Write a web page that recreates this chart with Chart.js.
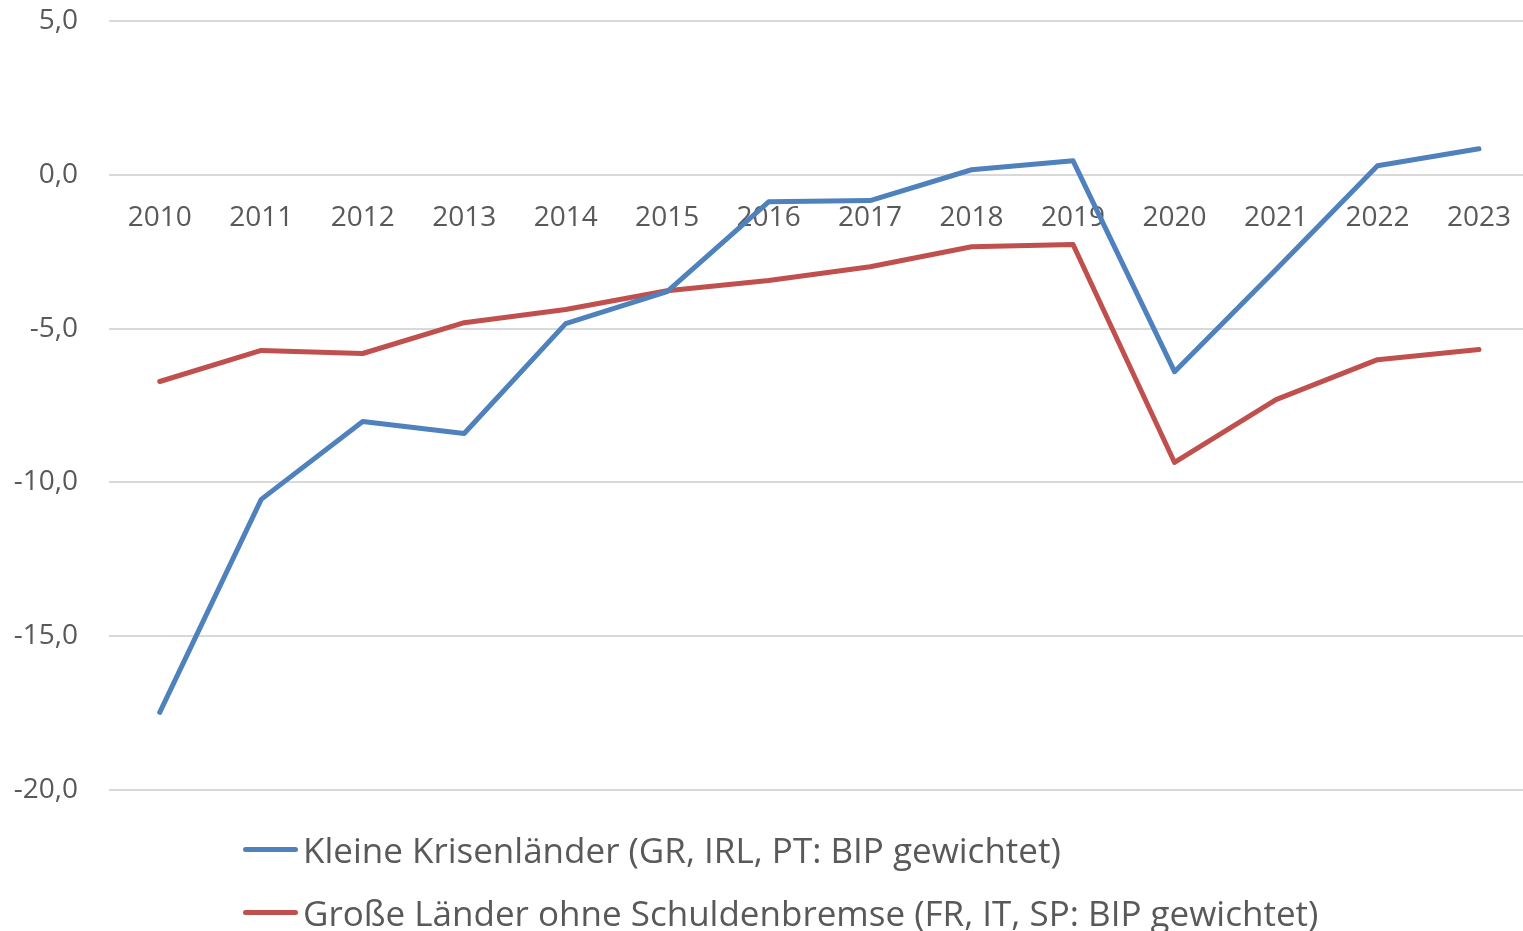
<!DOCTYPE html>
<html lang="de">
<head>
<meta charset="utf-8">
<script src="https://cdn.jsdelivr.net/npm/chart.js@4.4.0/dist/chart.umd.min.js"></script>
<style>
    html, body { margin: 0; padding: 0; background: #fff; overflow: hidden; }
    #wrap { position: relative; width: 1523px; height: 931px; overflow: hidden; }
    #chart-box { position: absolute; left: 0; top: -27px; width: 1530px; height: 865px; }
    #legend { position: absolute; left: 243px; top: 818px; font-family: "Open Sans", sans-serif; font-size: 35px; color: #595959; }
    .leg-item { display: flex; align-items: center; height: 63px; white-space: nowrap; }
    .leg-line { width: 55px; height: 5px; border-radius: 3px; margin-right: 5px; }
</style>
</head>
<body>
<div id="wrap">
    <div id="chart-box"><canvas id="chart-main"></canvas></div>
    <div id="legend"></div>
</div>
<script>
const YEARS = ['2010', '2011', '2012', '2013', '2014', '2015', '2016', '2017', '2018', '2019', '2020', '2021', '2022', '2023'];
const KLEINE = [-17.47, -10.55, -8.02, -8.41, -4.84, -3.80, -0.88, -0.84, 0.16, 0.45, -6.40, -3.08, 0.29, 0.84];
const GROSSE = [-6.72, -5.71, -5.81, -4.81, -4.38, -3.77, -3.44, -2.99, -2.34, -2.27, -9.35, -7.31, -6.01, -5.68];
const SERIES_LABELS = [
    'Kleine Krisenländer (GR, IRL, PT: BIP gewichtet)',
    'Große Länder ohne Schuldenbremse (FR, IT, SP: BIP gewichtet)',
];
const SERIES_COLORS = ['#4f81bd', '#c0504d'];
const Y_MIN = -20;
const Y_MAX = 5;
const Y_STEP = 5;

const TEXT_COLOR = '#595959';
const FONT = { family: '"Open Sans", sans-serif', size: 28 };

function fmt(v) {
    return v.toFixed(1).replace('.', ',');
}

function buildLegend() {
    const el = document.getElementById('legend');
    el.innerHTML = SERIES_LABELS.map((label, i) => `
        <div class="leg-item">
            <div class="leg-line" style="background:${SERIES_COLORS[i]}"></div>
            <span>${label}</span>
        </div>
    `).join('');
}

function initChart() {
    const datasets = [KLEINE, GROSSE].map((values, i) => ({
        label: SERIES_LABELS[i],
        data: values,
        borderColor: SERIES_COLORS[i],
        backgroundColor: SERIES_COLORS[i],
        borderWidth: 5,
        pointRadius: 0,
        tension: 0,
        borderCapStyle: 'round',
        borderJoinStyle: 'round',
    }));

    new Chart(document.getElementById('chart-main'), {
        type: 'line',
        data: { labels: YEARS, datasets },
        options: {
            responsive: true,
            maintainAspectRatio: false,
            animation: false,
            layout: { padding: { top: 20, right: 0, bottom: 21, left: 0 } },
            plugins: {
                legend: { display: false },
                tooltip: { enabled: false },
            },
            scales: {
                x: {
                    position: { y: 0 },
                    offset: true,
                    grid: { display: false },
                    border: { display: false },
                    ticks: { color: TEXT_COLOR, font: FONT, padding: 19, maxRotation: 0, autoSkip: false },
                },
                y: {
                    min: Y_MIN,
                    max: Y_MAX,
                    grid: { color: '#d9d9d9', lineWidth: 2, drawTicks: false },
                    border: { display: false },
                    ticks: { stepSize: Y_STEP, color: TEXT_COLOR, font: FONT, padding: 31, callback: v => fmt(v) },
                    afterFit: s => { s.width = 109; },
                },
            },
        },
    });
}

buildLegend();
initChart();
</script>
</body>
</html>
